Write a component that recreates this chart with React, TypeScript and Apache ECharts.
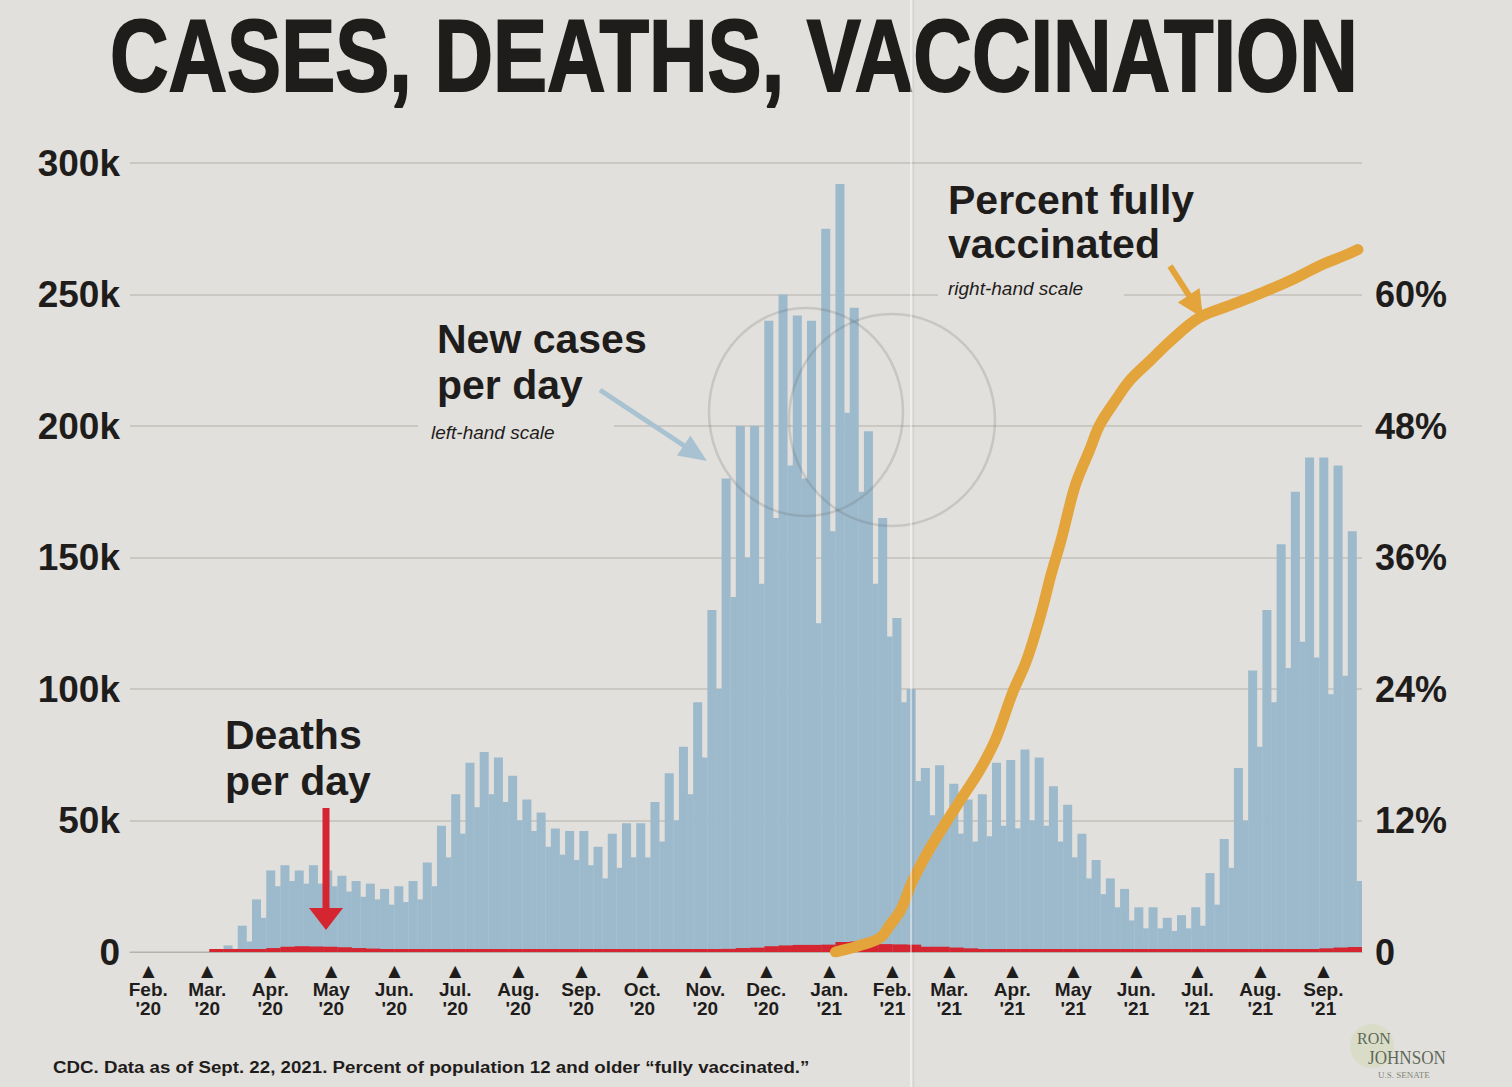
import React, { useEffect, useRef } from "react";
import * as echarts from "echarts";

// ---------- DATA ----------
// Month tick labels (Feb '20 .. Sep '21)
const MONTH_LABELS = ["Feb.", "Mar.", "Apr.", "May", "Jun.", "Jul.", "Aug.", "Sep.", "Oct.", "Nov.", "Dec.",
  "Jan.", "Feb.", "Mar.", "Apr.", "May", "Jun.", "Jul.", "Aug.", "Sep."];
const YEAR_LABELS = ["'20", "'20", "'20", "'20", "'20", "'20", "'20", "'20", "'20", "'20", "'20",
  "'21", "'21", "'21", "'21", "'21", "'21", "'21", "'21", "'21"];
const MONTH_STARTS: [number, number][] = [[2020, 1], [2020, 2], [2020, 3], [2020, 4], [2020, 5], [2020, 6], [2020, 7],
  [2020, 8], [2020, 9], [2020, 10], [2020, 11], [2021, 0], [2021, 1], [2021, 2], [2021, 3], [2021, 4], [2021, 5],
  [2021, 6], [2021, 7], [2021, 8]];

// Weekly new cases (weeks starting Monday, first week = Mar 2, 2020): weekday high and weekend low
const CASES_HI = [500, 2500, 10000, 20000, 31000, 33000, 31000, 33000, 31000, 29000, 27000, 26000, 24000, 25000,
  27000, 34000, 48000, 60000, 72000, 76000, 74000, 67000, 58000, 53000, 47000, 46000, 46000, 40000, 45000, 49000,
  49000, 57000, 68000, 78000, 95000, 130000, 180000, 200000, 200000, 240000, 250000, 242000, 240000, 275000,
  292000, 245000, 198000, 165000, 127000, 100000, 70000, 71000, 64000, 58000, 60000, 72000, 73000, 77000, 74000,
  63000, 56000, 45000, 35000, 28000, 24000, 17000, 17000, 13000, 14000, 17000, 30000, 43000, 70000, 107000,
  130000, 155000, 175000, 188000, 188000, 185000, 160000];
const CASES_LO = [300, 1200, 4000, 13000, 25000, 27000, 26000, 26000, 25000, 23000, 21000, 20000, 18000, 19000,
  20000, 25000, 36000, 45000, 55000, 60000, 57000, 50000, 46000, 40000, 37000, 35000, 33000, 28000, 32000, 36000,
  36000, 42000, 50000, 60000, 74000, 100000, 135000, 150000, 140000, 165000, 185000, 180000, 125000, 160000,
  205000, 175000, 140000, 120000, 95000, 65000, 52000, 50000, 45000, 42000, 44000, 48000, 47000, 50000, 48000,
  42000, 36000, 28000, 22000, 17000, 12000, 9000, 9000, 8000, 9000, 10000, 18000, 32000, 50000, 78000, 95000,
  108000, 118000, 112000, 98000, 105000, 27000];
// Weekly deaths per day
const DEATHS = [10, 50, 200, 800, 1500, 2000, 2200, 2100, 2000, 1800, 1500, 1300, 1000, 900, 800, 650, 600, 550,
  700, 850, 1000, 1150, 1100, 1100, 1050, 950, 900, 750, 800, 750, 720, 710, 720, 780, 820, 980, 1200, 1500, 1650,
  2200, 2500, 2700, 2700, 2800, 3800, 4000, 3600, 3000, 2900, 2800, 2000, 2000, 1700, 1400, 1000, 900, 800, 750,
  750, 700, 680, 650, 600, 550, 500, 400, 350, 300, 280, 250, 230, 250, 300, 350, 480, 600, 800, 1100, 1400, 1700,
  1900];
// Percent fully vaccinated: day (since Feb 1, 2020) and percent
const VAX_DAYS = [338, 350, 360, 365, 370, 376, 384, 393, 401, 409, 417, 425, 432, 439, 444, 449, 456, 463, 468,
  476, 483, 493, 503, 517, 532, 547, 562, 577, 589, 595];
const VAX_PCT = [0, 0.6, 1.3, 2.5, 3.8, 6.5, 9.3, 12.0, 14.3, 16.6, 19.5, 23.6, 26.6, 30.8, 34.4, 37.6, 42.6, 45.8,
  48.1, 50.4, 52.2, 54.0, 55.8, 57.9, 59.0, 60.1, 61.3, 62.7, 63.6, 64.1];

const LEFT_TICKS = { min: 0, max: 300000, interval: 50000 };
const RIGHT_TICKS = { min: 0, max: 72, interval: 12 };

// ---------- HELPERS ----------
const DAY = 86400000;
const BASE = Date.UTC(2020, 1, 1);
const dayOf = (y: number, m: number, d: number) => Math.round((Date.UTC(y, m, d) - BASE) / DAY);
const MONTH_DAYS = MONTH_STARTS.map(([y, m]) => dayOf(y, m, 1));
const WEEK0 = dayOf(2020, 2, 2);

function fitScale(text: string, font: string, target: number) {
  const c = document.createElement("canvas").getContext("2d");
  if (!c) return 1;
  c.font = font;
  const w = c.measureText(text).width;
  return w > 0 ? target / w : 1;
}

const BG = "#E2E0DC";
const INK = "#1f1d1c";
const BLUE = "#9DBACC";
const RED = "#D42530";
const ORANGE = "#E3A43B";
const SANS = '"Liberation Sans", Arial, sans-serif';

export default function App() {
  const ref = useRef<HTMLDivElement>(null);

  useEffect(() => {
    if (!ref.current) return;
    const chart = echarts.init(ref.current, undefined, { renderer: "svg" });

    const casesData = CASES_HI.map((hi, k) => [WEEK0 + 7 * k, hi, CASES_LO[k]]);
    const deathsData = DEATHS.map((v, k) => [WEEK0 + 7 * k, v]);
    const vaxData = VAX_DAYS.map((d, i) => [d, VAX_PCT[i]]);

    const title = "CASES, DEATHS, VACCINATION";
    const titleFont = `bold 102px ${SANS}`;
    const titleScale = fitScale(title, titleFont, 1248);
    const foot = "CDC. Data as of Sept. 22, 2021. Percent of population 12 and older \u201cfully vaccinated.\u201d";
    const footFont = `bold 17px ${SANS}`;
    const footScale = fitScale(foot, footFont, 757);

    const txt = (x: number, y: number, text: string, size: number, opts: any = {}) => ({
      type: "text",
      x,
      y,
      z: 100,
      scaleX: opts.scaleX ?? 1,
      style: {
        text,
        fontSize: size,
        fontWeight: opts.weight ?? "bold",
        fontStyle: opts.style ?? "normal",
        fontFamily: opts.family ?? SANS,
        fill: opts.fill ?? INK,
        textAlign: opts.align ?? "left",
        textVerticalAlign: "middle",
        lineHeight: opts.lineHeight ?? Math.round(size * 1.1),
        stroke: opts.stroke,
        lineWidth: opts.lineWidth ?? 0,
      },
    });

    const option: any = {
      animation: false,
      backgroundColor: BG,
      grid: { left: 130, right: 150, top: 163, bottom: 135 },
      xAxis: {
        type: "value",
        min: -9,
        max: 597,
        splitLine: { show: false },
        axisTick: { show: false },
        axisLine: { show: true, lineStyle: { color: "#b5b1ab", width: 1 } },
        axisLabel: {
          customValues: MONTH_DAYS,
          margin: 8,
          formatter: (v: number) => {
            const i = MONTH_DAYS.indexOf(Math.round(v));
            if (i < 0) return "";
            return `{t|\u25B2}\n{m|${MONTH_LABELS[i]}}\n{y|${YEAR_LABELS[i]}}`;
          },
          rich: {
            t: { fontSize: 16, lineHeight: 20, color: INK, fontFamily: '"DejaVu Sans", sans-serif' },
            m: { fontSize: 19, lineHeight: 19, color: INK, fontWeight: "bold", fontFamily: SANS },
            y: { fontSize: 19, lineHeight: 19, color: INK, fontWeight: "bold", fontFamily: SANS },
          },
        },
      },
      yAxis: [
        {
          type: "value",
          ...LEFT_TICKS,
          axisLine: { show: false },
          axisTick: { show: false },
          splitLine: { lineStyle: { color: "#CBC8C3", width: 2 } },
          axisLabel: {
            margin: 10,
            color: INK,
            fontSize: 37,
            fontWeight: "bold",
            fontFamily: SANS,
            formatter: (v: number) => (v === 0 ? "0" : `${v / 1000}k`),
          },
        },
        {
          type: "value",
          ...RIGHT_TICKS,
          position: "right",
          axisLine: { show: false },
          axisTick: { show: false },
          splitLine: { show: false },
          axisLabel: {
            margin: 13,
            color: INK,
            fontSize: 36,
            fontWeight: "bold",
            fontFamily: SANS,
            formatter: (v: number) => (v === 72 ? "" : v === 0 ? "0" : `${v}%`),
          },
        },
      ],
      series: [
        {
          type: "custom",
          name: "New cases per day",
          data: casesData,
          clip: true,
          z: 2,
          encode: { x: 0, y: [1, 2] },
          renderItem: (params: any, api: any) => {
            const s = api.value(0);
            const hi = api.value(1);
            const lo = api.value(2);
            const p0 = api.coord([s, 0]);
            const p1 = api.coord([s + 4.3, hi]);
            const p2 = api.coord([s + 7, lo]);
            return {
              type: "group",
              children: [
                { type: "rect", shape: { x: p0[0], y: p1[1], width: p1[0] - p0[0] + 0.3, height: p0[1] - p1[1] }, style: { fill: BLUE } },
                { type: "rect", shape: { x: p1[0], y: p2[1], width: p2[0] - p1[0] + 0.3, height: p0[1] - p2[1] }, style: { fill: BLUE } },
              ],
            };
          },
        },
        {
          type: "custom",
          name: "Deaths per day",
          data: deathsData,
          clip: true,
          z: 3,
          encode: { x: 0, y: 1 },
          renderItem: (params: any, api: any) => {
            const s = api.value(0);
            const v = api.value(1);
            const p0 = api.coord([s, 0]);
            const p1 = api.coord([s + 7, v]);
            const h = Math.max(3, p0[1] - p1[1]);
            return {
              type: "rect",
              shape: { x: p0[0], y: p0[1] - h, width: p1[0] - p0[0] + 0.3, height: h },
              style: { fill: RED },
            };
          },
        },
        {
          type: "line",
          name: "Percent fully vaccinated",
          yAxisIndex: 1,
          data: vaxData,
          symbol: "none",
          smooth: 0.35,
          z: 5,
          lineStyle: { color: ORANGE, width: 11, cap: "round", join: "round" },
        },
      ],
      graphic: [
        // background patches behind annotation blocks (break the gridlines)
        { type: "rect", z: 1, shape: { x: 418, y: 300, width: 196, height: 145 }, style: { fill: BG } },
        { type: "rect", z: 1, shape: { x: 938, y: 172, width: 186, height: 132 }, style: { fill: BG } },
        // paper fold
        { type: "line", z: 110, shape: { x1: 911, y1: 0, x2: 911, y2: 1087 }, style: { stroke: "rgba(255,255,255,0.45)", lineWidth: 2 } },
        { type: "line", z: 110, shape: { x1: 913.5, y1: 0, x2: 913.5, y2: 1087 }, style: { stroke: "rgba(0,0,0,0.05)", lineWidth: 1.5 } },
        // pencil circles
        { type: "ellipse", z: 90, shape: { cx: 806, cy: 412, rx: 97, ry: 104 }, style: { fill: "none", stroke: "rgba(95,95,95,0.2)", lineWidth: 2.5 } },
        { type: "ellipse", z: 90, shape: { cx: 892, cy: 420, rx: 103, ry: 106 }, style: { fill: "none", stroke: "rgba(95,95,95,0.2)", lineWidth: 2.5 } },
        // title
        txt(110, 56, title, 102, { scaleX: titleScale, stroke: INK, lineWidth: 2, lineHeight: 100 }),
        // annotations
        txt(437, 339, "New cases", 41),
        txt(437, 385, "per day", 41),
        txt(431, 432, "left-hand scale", 19, { weight: "normal", style: "italic" }),
        txt(948, 200, "Percent fully", 41),
        txt(948, 244, "vaccinated", 41),
        txt(948, 288, "right-hand scale", 19, { weight: "normal", style: "italic" }),
        txt(225, 735, "Deaths", 41),
        txt(225, 781, "per day", 41),
        // arrows
        { type: "line", z: 100, shape: { x1: 600, y1: 390, x2: 686, y2: 447 }, style: { stroke: "#A9C2D2", lineWidth: 5 } },
        { type: "polygon", z: 100, shape: { points: [[707, 461], [677, 455.5], [690.4, 435.5]] }, style: { fill: "#A9C2D2" } },
        { type: "line", z: 100, shape: { x1: 1170, y1: 266, x2: 1190, y2: 297 }, style: { stroke: ORANGE, lineWidth: 6 } },
        { type: "polygon", z: 100, shape: { points: [[1203, 318], [1177.8, 302.5], [1199.6, 288.1]] }, style: { fill: ORANGE } },
        { type: "line", z: 100, shape: { x1: 326, y1: 808, x2: 326, y2: 912 }, style: { stroke: RED, lineWidth: 7 } },
        { type: "polygon", z: 100, shape: { points: [[309, 908], [343, 908], [326, 930]] }, style: { fill: RED } },
        // footnote
        txt(53, 1067, foot, 17, { scaleX: footScale }),
        // logo
        { type: "circle", z: 95, shape: { cx: 1372, cy: 1046, r: 22 }, style: { fill: "rgba(190,210,140,0.25)" } },
        txt(1357, 1038, "RON", 16, { weight: "normal", family: '"Liberation Serif", serif', fill: "#5f6859" }),
        txt(1368, 1058, "JOHNSON", 18, { weight: "normal", family: '"Liberation Serif", serif', fill: "#5f6859", scaleX: 0.95 }),
        txt(1378, 1075, "U.S. SENATE", 9, { weight: "normal", family: '"Liberation Serif", serif', fill: "#7d8576" }),
      ],
    };

    chart.setOption(option);
    return () => chart.dispose();
  }, []);

  return (
    <div
      ref={ref}
      style={{ position: "absolute", left: 0, top: 0, width: 1512, height: 1087 }}
    />
  );
}
